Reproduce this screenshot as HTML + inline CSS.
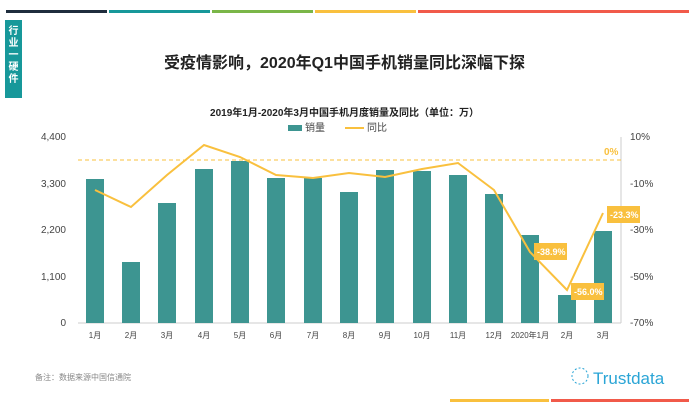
<!DOCTYPE html><html><head><meta charset="utf-8"><style>
body{margin:0;width:689px;height:406px;background:#fff;overflow:hidden;font-family:"Liberation Sans","Noto Sans CJK SC",sans-serif;position:relative}
.a{position:absolute}
</style></head><body>
<div class="a" style="left:6px;top:10px;width:101px;height:3px;background:#1f2d3d"></div>
<div class="a" style="left:109px;top:10px;width:101px;height:3px;background:#17989a"></div>
<div class="a" style="left:212px;top:10px;width:101px;height:3px;background:#7ab648"></div>
<div class="a" style="left:315px;top:10px;width:101px;height:3px;background:#f9c03e"></div>
<div class="a" style="left:418px;top:10px;width:271px;height:3px;background:#f15a4a"></div>
<div class="a" style="left:5px;top:20px;width:17px;height:78px;background:#17989a;color:#fff;font-size:10px;font-weight:bold;line-height:12px;text-align:center;padding-top:6px;box-sizing:border-box">行<br>业<br>一<br>硬<br>件</div>
<div class="a" style="left:0;top:49px;width:689px;text-align:center;font-size:16px;font-weight:bold;color:#222">受疫情影响，2020年Q1中国手机销量同比深幅下探</div>
<div class="a" style="left:0;top:104px;width:689px;text-align:center;font-size:10px;font-weight:bold;color:#222">2019年1月-2020年3月中国手机月度销量及同比（单位：万）</div>
<svg class="a" style="left:0;top:0" width="689" height="406" font-family="Liberation Sans,Noto Sans CJK SC,sans-serif">
<rect x="288" y="125" width="14" height="6" fill="#3d9591"/><text x="305" y="131" font-size="10" fill="#444">销量</text>
<line x1="345" y1="128" x2="364" y2="128" stroke="#f9c03e" stroke-width="2"/><text x="367" y="131" font-size="10" fill="#444">同比</text>
<g font-size="10" fill="#444" text-anchor="end">
<text x="66" y="140">4,400</text><text x="66" y="187">3,300</text><text x="66" y="233">2,200</text><text x="66" y="280">1,100</text><text x="66" y="326">0</text></g>
<g font-size="10" fill="#444">
<text x="630" y="140">10%</text><text x="630" y="187">-10%</text><text x="630" y="233">-30%</text><text x="630" y="280">-50%</text><text x="630" y="326">-70%</text></g>
<line x1="78" y1="323" x2="621" y2="323" stroke="#ccc"/>
<line x1="621" y1="137" x2="621" y2="323" stroke="#ccc"/>
<line x1="78" y1="160" x2="621" y2="160" stroke="#f9c03e" stroke-dasharray="4,3"/>
<text x="604" y="155" font-size="10" font-weight="bold" fill="#f9c03e">0%</text>
<g fill="#3d9591">
<rect x="86" y="179" width="18" height="144"/><rect x="122" y="262" width="18" height="61"/><rect x="158" y="203" width="18" height="120"/><rect x="195" y="169" width="18" height="154"/><rect x="231" y="161" width="18" height="162"/><rect x="267" y="178" width="18" height="145"/><rect x="304" y="178" width="18" height="145"/><rect x="340" y="192" width="18" height="131"/><rect x="376" y="170" width="18" height="153"/><rect x="413" y="171" width="18" height="152"/><rect x="449" y="175" width="18" height="148"/><rect x="485" y="194" width="18" height="129"/><rect x="521" y="235" width="18" height="88"/><rect x="558" y="295" width="18" height="28"/><rect x="594" y="231" width="18" height="92"/></g>
<polyline fill="none" stroke="#f9c03e" stroke-width="2" points="95,190 131,207 167,175 204,145 240,157 276,175 313,178 349,173 385,177 422,169 458,163 494,190 530,252 567,290 603,213"/>
<g font-size="9" fill="#fff" font-weight="bold">
<rect x="534" y="243" width="33" height="17" fill="#f9c03e"/><text x="537" y="255">-38.9%</text>
<rect x="571" y="283" width="33" height="17" fill="#f9c03e"/><text x="574" y="295">-56.0%</text>
<rect x="607" y="206" width="33" height="17" fill="#f9c03e"/><text x="610" y="218">-23.3%</text></g>
<g font-size="8" fill="#444" text-anchor="middle">
<text x="95" y="338">1月</text><text x="131" y="338">2月</text><text x="167" y="338">3月</text><text x="204" y="338">4月</text><text x="240" y="338">5月</text><text x="276" y="338">6月</text><text x="313" y="338">7月</text><text x="349" y="338">8月</text><text x="385" y="338">9月</text><text x="422" y="338">10月</text><text x="458" y="338">11月</text><text x="494" y="338">12月</text><text x="530" y="338">2020年1月</text><text x="567" y="338">2月</text><text x="603" y="338">3月</text></g>
<text x="35" y="380" font-size="8" fill="#888">备注：数据来源中国信通院</text>
<g stroke="#2aa5d6" stroke-width="1"><circle cx="580" cy="376" r="8" fill="none" stroke-dasharray="2,2"/></g>
<text x="593" y="384" font-size="17" fill="#2aa5d6">Trustdata</text>
<rect x="450" y="399" width="99" height="3" fill="#f9c03e"/><rect x="551" y="399" width="138" height="3" fill="#f15a4a"/>
</svg>
</body></html>
